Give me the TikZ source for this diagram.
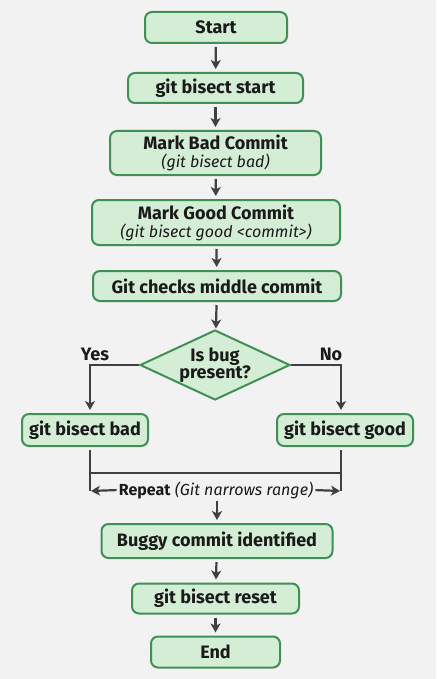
\documentclass[tikz,border=0pt]{standalone}
\usepackage{fontspec}
\setmainfont{Fira Sans}
\usetikzlibrary{arrows.meta,shapes.geometric}
\definecolor{bg}{HTML}{F2F2F2}
\definecolor{boxfill}{HTML}{D4EDD5}
\definecolor{boxdraw}{HTML}{3F8F56}
\definecolor{ln}{HTML}{404040}
\definecolor{txt}{HTML}{1A1A1A}
\newcommand{\bigf}{\fontsize{18}{20}\selectfont}
\newcommand{\smallf}{\fontsize{16}{18}\selectfont}
\begin{document}
\begin{tikzpicture}[x=1pt,y=-1pt,
  box/.style={draw=boxdraw,fill=boxfill,line width=2pt,rounded corners=7pt,text=txt,font=\bfseries\bigf,inner sep=0pt,align=center},
  dec/.style={draw=boxdraw,fill=boxfill,line width=2pt,diamond,aspect=2.14,text=txt,font=\bfseries\bigf,inner sep=0pt,align=center,minimum width=150pt,minimum height=70pt},
  conn/.style={draw=ln,line width=2.2pt,-{Stealth[length=9pt,width=10pt,inset=2.5pt]},shorten <=3pt,shorten >=3pt},
  plain/.style={draw=ln,line width=2.2pt},
  lbl/.style={text=txt,font=\bigf,inner sep=0pt}]
\fill[bg] (0,0) rectangle (436,679);
\node[box,minimum width=142pt,minimum height=31pt] (start) at (216,27.5) {Start};
\node[box,minimum width=175pt,minimum height=30pt] (bstart) at (215.5,88) {git bisect start};
\node[box,minimum width=211pt,minimum height=44pt] (mbad) at (215.5,153) {Mark Bad Commit\\[-2pt]{\mdseries\itshape\smallf (git bisect bad)}};
\node[box,minimum width=248pt,minimum height=45pt] (mgood) at (216,222.5) {Mark Good Commit\\[-2pt]{\mdseries\itshape\smallf (git bisect good <commit>)}};
\node[box,minimum width=248pt,minimum height=30pt] (check) at (217,286) {Git checks middle commit};
\node[dec] (isbug) at (215,365) {Is bug\\[-3.5pt]present?};
\node[box,minimum width=126pt,minimum height=32pt] (bad) at (85,430) {git bisect bad};
\node[box,minimum width=136pt,minimum height=32pt] (good) at (345,430) {git bisect good};
\node[lbl,font=\bfseries\bigf] (yes) at (95,354) {Yes};
\node[lbl,font=\bfseries\bigf] (no) at (331,354) {No};
\node[lbl,font=\smallf] (rep) at (216,490) {\textbf{Repeat} \textit{(Git narrows range)}};
\node[box,minimum width=231pt,minimum height=34pt] (buggy) at (217,541) {Buggy commit identified};
\node[box,minimum width=167pt,minimum height=30pt] (reset) at (215.5,598.5) {git bisect reset};
\node[box,minimum width=129pt,minimum height=31pt] (end) at (215.5,652) {End};
\coordinate (ly) at (90,365);
\coordinate (ny) at (341,365);
\coordinate (lt) at (90,450);
\coordinate (rt) at (341,450);
\coordinate (lm) at (90,473);
\coordinate (rm) at (341,473);
\coordinate (lb) at (90,491);
\coordinate (rb) at (341,491);
\draw[conn] (start) -- (bstart);
\draw[conn] (bstart) -- (mbad);
\draw[conn] (mbad) -- (mgood);
\draw[conn] (mgood) -- (check);
\draw[conn,shorten >=1pt] (check) -- (isbug);
\draw[conn,shorten <=0pt] (isbug.west) -- (ly) -- (ly |- bad.north);
\draw[conn,shorten <=0pt] (isbug.east) -- (ny) -- (ny |- good.north);
\draw[plain] (lt) -- (lb);
\draw[plain] (rt) -- (rb);
\draw[plain] (lm) -- (rm);
\draw[conn,shorten <=2pt,shorten >=1pt] (rep.west) -- (lb);
\draw[conn,shorten <=2pt,shorten >=1pt] (rep.east) -- (rb);
\draw[conn,shorten <=2pt] (rep.south -| buggy.north) -- (buggy.north);
\draw[conn] (buggy) -- (reset);
\draw[conn] (reset) -- (end);
\end{tikzpicture}
\end{document}
